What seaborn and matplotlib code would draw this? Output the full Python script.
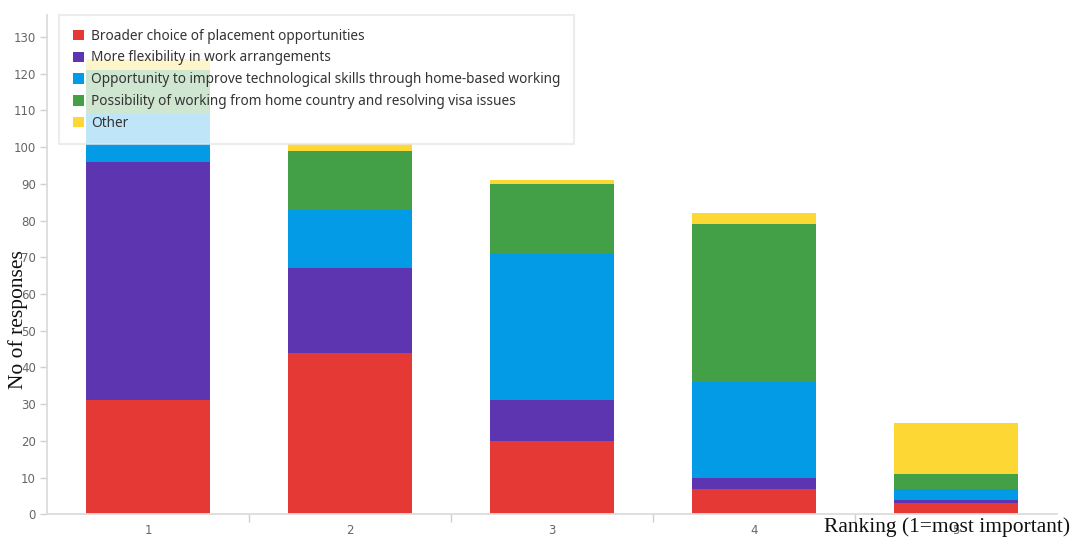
import matplotlib
matplotlib.use("Agg")
import matplotlib.pyplot as plt
from matplotlib.patches import Patch
from matplotlib.ticker import FixedLocator
import numpy as np
import pandas as pd
import seaborn as sns

# Ranking positions and answer counts per reason
rankings = ["1", "2", "3", "4", "5"]
series_names = [
    "Broader choice of placement opportunities",
    "More flexibility in work arrangements",
    "Opportunity to improve technological skills through home-based working",
    "Possibility of working from home country and resolving visa issues",
    "Other",
]
broader_choice = [31, 44, 20, 7, 3]
flexibility = [65, 23, 11, 3, 1]
tech_skills = [13, 16, 40, 26, 3]
home_country = [12, 16, 19, 43, 4]
other = [3, 2, 1, 3, 14]

colors = ["#e53935", "#5e35b1", "#039be5", "#43a047", "#fdd835"]

sns.set_theme(style="white")

values = [broader_choice, flexibility, tech_skills, home_country, other]
cumulative = np.cumsum(np.array(values), axis=0)

fig = plt.figure(figsize=(10.71, 5.37), dpi=100)
ax = fig.add_axes([0.0439, 0.0423, 0.9431, 0.9297])

# Draw cumulative totals from the top segment down so each layer shows its own slice
for i in range(len(series_names) - 1, -1, -1):
    df = pd.DataFrame({"ranking": rankings, "total": cumulative[i]})
    sns.barplot(data=df, x="ranking", y="total", color=colors[i], width=0.61,
                saturation=1, linewidth=0, edgecolor="none", ax=ax, zorder=2)

ax.set_ylim(0, 136)
ax.set_xlim(-0.5, 4.5)
ax.set_yticks(range(0, 131, 10))
ax.set_xlabel("")
ax.set_ylabel("")

for side in ["top", "right"]:
    ax.spines[side].set_visible(False)
for side in ["left", "bottom"]:
    ax.spines[side].set_color("#dcdcdc")
    ax.spines[side].set_linewidth(1.3)

ax.tick_params(axis="y", which="major", length=5, width=1, color="#d0d0d0",
               labelsize=8.5, labelcolor="#666666", pad=3, left=True)
ax.tick_params(axis="x", which="major", length=0, labelsize=8.5,
               labelcolor="#666666", pad=7)
ax.xaxis.set_minor_locator(FixedLocator([0.5, 1.5, 2.5, 3.5]))
ax.tick_params(axis="x", which="minor", length=6, width=1, color="#d0d0d0",
               bottom=True)

handles = [Patch(facecolor=c, edgecolor="none") for c in colors]
leg = ax.legend(handles, series_names, loc="upper left",
                bbox_to_anchor=(0.012, 1.0), borderaxespad=0,
                frameon=True, framealpha=0.75,
                handlelength=0.8, handleheight=0.8,
                handletextpad=0.55, labelspacing=0.5, borderpad=1.0,
                prop={"family": "Noto Sans", "size": 9.8}, fancybox=False)
leg.get_frame().set_edgecolor("#e6e6e6")
leg.get_frame().set_linewidth(1.5)
leg.set_zorder(5)
for t in leg.get_texts():
    t.set_color("#333333")

fig.text(0.017, 0.404, "No of responses", rotation=90, ha="center", va="center",
         family="Liberation Serif", fontsize=15.5, color="#111111")
fig.text(0.999, 0.019, "Ranking (1=most important)", ha="right", va="center",
         family="Liberation Serif", fontsize=15.5, color="#111111")

fig.savefig("out.png", dpi=100)
